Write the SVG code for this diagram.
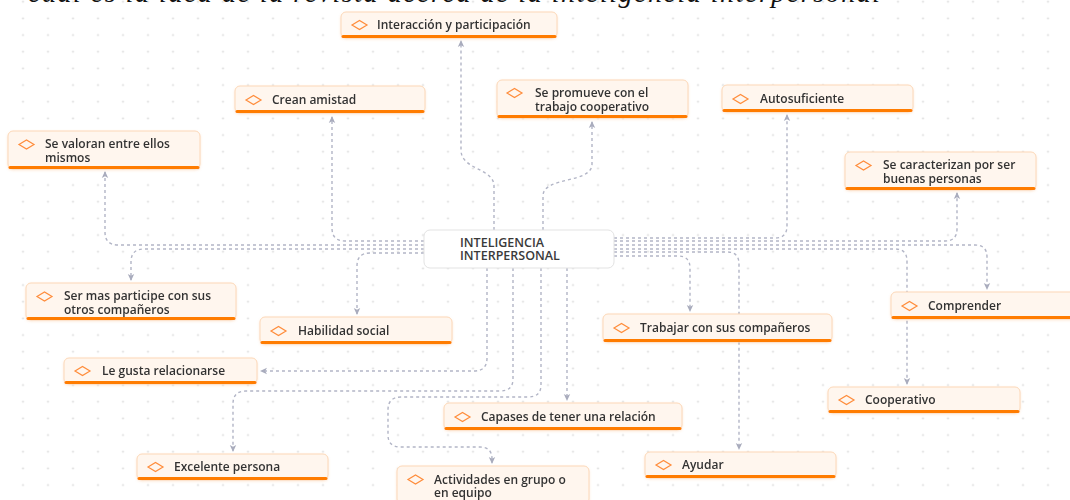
<svg xmlns="http://www.w3.org/2000/svg" width="1070" height="500" viewBox="0 0 1070 500">
<defs>
<pattern id="dots" width="25" height="16.667" patternUnits="userSpaceOnUse" x="10.5" y="-6.63">
<circle cx="12.5" cy="8.33" r="0.9" fill="#d6d6d6"/>
</pattern>
<marker id="arr" markerWidth="8" markerHeight="8" refX="6" refY="4" orient="auto" markerUnits="userSpaceOnUse">
<path d="M0,0.8 L7,4 L0,7.2 L1.8,4 Z" fill="#a9acbd"/>
</marker>
<filter id="sh" x="-5%" y="-20%" width="110%" height="150%">
<feDropShadow dx="0" dy="1" stdDeviation="1.2" flood-color="#f2a15e" flood-opacity="0.25"/>
</filter>
</defs>
<style>
.box{fill:#fff6ee;stroke:#fcd8b8;stroke-width:1}
.bar{fill:#ff7b00}
.dia{fill:none;stroke:#ff8c3a;stroke-width:1.2}
.lbl{font-family:"Open Sans","Noto Sans",sans-serif;font-size:12px;font-weight:600;fill:#333}
.ctr{fill:#fff;stroke:#e3e3e3;stroke-width:1}
.ctext{font-family:"Open Sans","Noto Sans",sans-serif;font-size:12.5px;font-weight:600;fill:#3a3a3a}
.con{fill:none;stroke:#b2b5c6;stroke-width:1.4;stroke-dasharray:3 3;marker-end:url(#arr)}
.title{font-family:"Liberation Serif",serif;font-style:italic;font-size:28px;fill:#111}
</style>
<rect width="1070" height="500" fill="#fff"/>
<rect width="1070" height="500" fill="url(#dots)"/>
<text class="title" x="28" y="2" textLength="852" lengthAdjust="spacing">cuál es la idea de la revista acerca de la inteligencia interpersonal</text>

<g id="connectors">
<path class="con" d="M424,245 H118 Q105,245 105,232 V172"/>
<path class="con" d="M424,241 H345 Q332,241 332,228 V117"/>
<path class="con" d="M424,249 H144 Q131,249 131,262 V280"/>
<path class="con" d="M424,253 H370 Q357,253 357,266 V314"/>
<path class="con" d="M494,230 V186 C494,168 461,170 461,150 V41"/>
<path class="con" d="M543,230 V196 C543,176 592,184 592,164 V122"/>
<path class="con" d="M614,238 H775 Q787,238 787,226 V115"/>
<path class="con" d="M614,241 H945 Q957,241 957,229 V193"/>
<path class="con" d="M614,245 H975 Q987,245 987,257 V289"/>
<path class="con" d="M614,249 H895 Q907,249 907,261 V384"/>
<path class="con" d="M614,252 H727 Q739,252 739,264 V449"/>
<path class="con" d="M614,256 H678 Q690,256 690,268 V311"/>
<path class="con" d="M487,268 V358 Q487,371 474,371 H261"/>
<path class="con" d="M513,268 V379 Q513,391 500,391 H246 Q233,391 233,404 V451"/>
<path class="con" d="M541,268 V385 Q541,397 528,397 H401 Q388,397 388,410 V435 Q388,447 401,447 H480 Q492,447 492,459 V463"/>
<path class="con" d="M567,268 V400"/>
</g>

<g id="center">
<rect class="ctr" x="424" y="230" width="190" height="38" rx="6"/>
<text class="ctext" x="460" y="246.5">INTELIGENCIA</text>
<text class="ctext" x="460" y="260">INTERPERSONAL</text>
</g>

<g id="n-interaccion" transform="translate(341,12)" filter="url(#sh)">
<rect class="box" width="216" height="26" rx="5"/><rect class="bar" x="0.5" y="23" width="215" height="3" rx="1.5"/>
<polygon class="dia" points="11,13 18.5,8.5 26,13 18.5,17.5"/>
<text class="lbl" x="36" y="17">Interacción y participación</text>
</g>

<g id="n-crean" transform="translate(235,86)" filter="url(#sh)">
<rect class="box" width="190" height="27" rx="5"/><rect class="bar" x="0.5" y="24" width="189" height="3" rx="1.5"/>
<polygon class="dia" points="11,14 18.5,9.5 26,14 18.5,18.5"/>
<text class="lbl" x="37" y="18">Crean amistad</text>
</g>

<g id="n-valoran" transform="translate(8,131)" filter="url(#sh)">
<rect class="box" width="192" height="38" rx="5"/><rect class="bar" x="0.5" y="35" width="191" height="3" rx="1.5"/>
<polygon class="dia" points="11,13.5 18.5,9 26,13.5 18.5,18"/>
<text class="lbl" x="37" y="17">Se valoran entre ellos</text>
<text class="lbl" x="37" y="30.5">mismos</text>
</g>

<g id="n-promueve" transform="translate(497,80)" filter="url(#sh)">
<rect class="box" width="191" height="38" rx="5"/><rect class="bar" x="0.5" y="35" width="190" height="3" rx="1.5"/>
<polygon class="dia" points="10,13 17.5,8.5 25,13 17.5,17.5"/>
<text class="lbl" x="38" y="17">Se promueve con el</text>
<text class="lbl" x="38" y="30.5">trabajo cooperativo</text>
</g>

<g id="n-autosuficiente" transform="translate(722,85)" filter="url(#sh)">
<rect class="box" width="191" height="27" rx="5"/><rect class="bar" x="0.5" y="24" width="190" height="3" rx="1.5"/>
<polygon class="dia" points="11,14 18.5,9.5 26,14 18.5,18.5"/>
<text class="lbl" x="38" y="18">Autosuficiente</text>
</g>

<g id="n-caracterizan" transform="translate(845,152)" filter="url(#sh)">
<rect class="box" width="191" height="38" rx="5"/><rect class="bar" x="0.5" y="35" width="190" height="3" rx="1.5"/>
<polygon class="dia" points="11,13.5 18.5,9 26,13.5 18.5,18"/>
<text class="lbl" x="38" y="17">Se caracterizan por ser</text>
<text class="lbl" x="38" y="30.5">buenas personas</text>
</g>

<g id="n-participe" transform="translate(26,283)" filter="url(#sh)">
<rect class="box" width="210" height="37" rx="5"/><rect class="bar" x="0.5" y="34" width="209" height="3" rx="1.5"/>
<polygon class="dia" points="11,13.5 18.5,9 26,13.5 18.5,18"/>
<text class="lbl" x="38" y="17">Ser mas participe con sus</text>
<text class="lbl" x="38" y="30.5">otros compañeros</text>
</g>

<g id="n-habilidad" transform="translate(260,317)" filter="url(#sh)">
<rect class="box" width="192" height="27" rx="5"/><rect class="bar" x="0.5" y="24" width="191" height="3" rx="1.5"/>
<polygon class="dia" points="11,14 18.5,9.5 26,14 18.5,18.5"/>
<text class="lbl" x="38" y="18">Habilidad social</text>
</g>

<g id="n-legusta" transform="translate(64,358)" filter="url(#sh)">
<rect class="box" width="193" height="26" rx="5"/><rect class="bar" x="0.5" y="23" width="192" height="3" rx="1.5"/>
<polygon class="dia" points="11,13 18.5,8.5 26,13 18.5,17.5"/>
<text class="lbl" x="38" y="17">Le gusta relacionarse</text>
</g>

<g id="n-trabajar" transform="translate(603,314)" filter="url(#sh)">
<rect class="box" width="229" height="28" rx="5"/><rect class="bar" x="0.5" y="25" width="228" height="3" rx="1.5"/>
<polygon class="dia" points="11,14 18.5,9.5 26,14 18.5,18.5"/>
<text class="lbl" x="37" y="18">Trabajar con sus compañeros</text>
</g>

<g id="n-comprender" transform="translate(891,292)" filter="url(#sh)">
<rect class="box" width="190" height="27" rx="5"/><rect class="bar" x="0.5" y="24" width="189" height="3" rx="1.5"/>
<polygon class="dia" points="11,14 18.5,9.5 26,14 18.5,18.5"/>
<text class="lbl" x="37" y="18">Comprender</text>
</g>

<g id="n-cooperativo" transform="translate(828,387)" filter="url(#sh)">
<rect class="box" width="192" height="26" rx="5"/><rect class="bar" x="0.5" y="23" width="191" height="3" rx="1.5"/>
<polygon class="dia" points="11,13 18.5,8.5 26,13 18.5,17.5"/>
<text class="lbl" x="37" y="17">Cooperativo</text>
</g>

<g id="n-capases" transform="translate(444,403)" filter="url(#sh)">
<rect class="box" width="238" height="27" rx="5"/><rect class="bar" x="0.5" y="24" width="237" height="3" rx="1.5"/>
<polygon class="dia" points="11,14 18.5,9.5 26,14 18.5,18.5"/>
<text class="lbl" x="37" y="18">Capases de tener una relación</text>
</g>

<g id="n-excelente" transform="translate(137,454)" filter="url(#sh)">
<rect class="box" width="191" height="26" rx="5"/><rect class="bar" x="0.5" y="23" width="190" height="3" rx="1.5"/>
<polygon class="dia" points="11,13 18.5,8.5 26,13 18.5,17.5"/>
<text class="lbl" x="37" y="17">Excelente persona</text>
</g>

<g id="n-actividades" transform="translate(397,466)" filter="url(#sh)">
<rect class="box" width="192" height="38" rx="5"/><rect class="bar" x="0.5" y="35" width="191" height="3" rx="1.5"/>
<polygon class="dia" points="11,13.5 18.5,9 26,13.5 18.5,18"/>
<text class="lbl" x="37" y="17.5">Actividades en grupo o</text>
<text class="lbl" x="37" y="31">en equipo</text>
</g>

<g id="n-ayudar" transform="translate(645,452)" filter="url(#sh)">
<rect class="box" width="191" height="26" rx="5"/><rect class="bar" x="0.5" y="23" width="190" height="3" rx="1.5"/>
<polygon class="dia" points="11,13 18.5,8.5 26,13 18.5,17.5"/>
<text class="lbl" x="37" y="17">Ayudar</text>
</g>
</svg>
